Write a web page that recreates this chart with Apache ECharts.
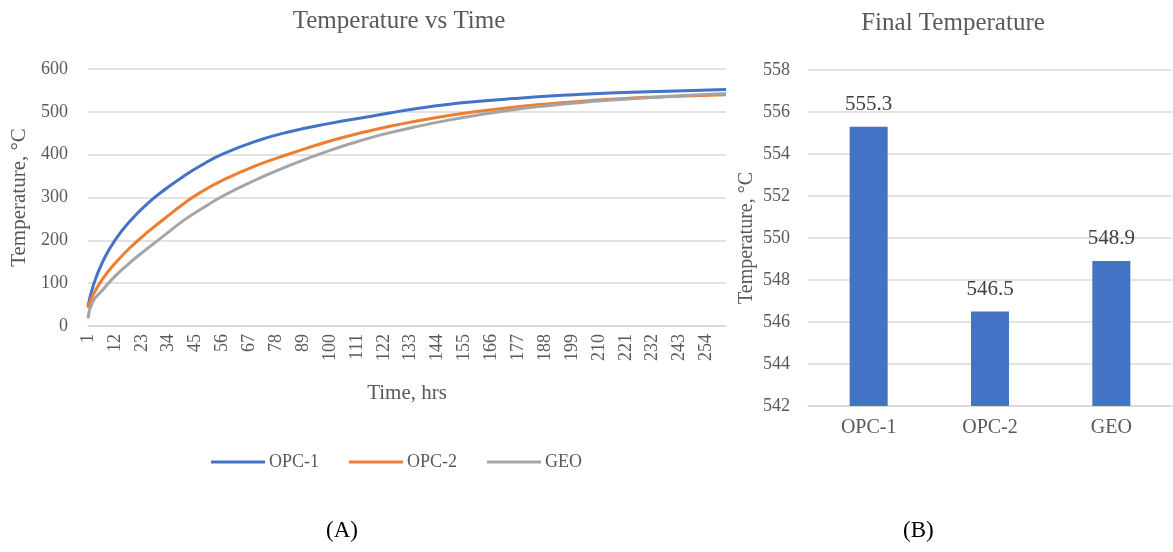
<!DOCTYPE html>
<html>
<head>
<meta charset="utf-8">
<script src="https://cdn.jsdelivr.net/npm/echarts@6/dist/echarts.min.js"></script>
<style>
  html, body { margin: 0; padding: 0; background: #fff; }
  #chart { width: 1173px; height: 552px; }
</style>
</head>
<body>
<div id="chart"></div>
<script>
// Temperature history (hours 1..262) sampled at these hours
const hours = [1, 3, 7, 12, 19, 26, 33, 40, 47, 56, 70, 83, 100, 115, 125, 135, 148, 160, 175, 190, 203, 217, 230, 245, 262];
const opc1 = [45, 92, 150, 200, 250, 289, 321, 349, 374, 401, 432, 453, 473, 488, 498, 507, 517, 524, 531, 537, 541, 544.5, 547, 549.5, 552];
const opc2 = [42, 72, 110, 146, 187, 222, 254, 285, 312, 340, 375, 401, 432, 454, 467, 478, 491, 501, 511, 519, 525, 530, 534, 537, 540];
const geo  = [18, 57, 84, 116, 152, 184, 215, 246, 272, 303, 342, 374, 410, 437, 452, 465, 480, 492, 505, 515, 522, 528, 533, 538, 543];
const lastHour = 262;

// Final temperatures
const mixes = ['OPC-1', 'OPC-2', 'GEO'];
const finalTemp = [555.3, 546.5, 548.9];

const FONT = '"Liberation Serif", "Times New Roman", serif';
const TXT = '#595959';
const GRID = '#D9D9D9';
const COLORS = ['#4472C4', '#ED7D31', '#A5A5A5'];

const timeCats = [];
for (let h = 1; h <= lastHour; h++) timeCats.push(String(h));

function pairs(vals) {
  return hours.map((h, i) => [h - 1, vals[i]]);
}

function lineSeries(name, vals, color) {
  return {
    name: name,
    type: 'line',
    xAxisIndex: 0,
    yAxisIndex: 0,
    data: pairs(vals),
    smooth: 0.5,
    showSymbol: false,
    symbol: 'none',
    lineStyle: { color: color, width: 3 },
    itemStyle: { color: color },
    z: 2
  };
}

const chart = echarts.init(document.getElementById('chart'), null, { renderer: 'canvas' });

chart.setOption({
  animation: false,
  backgroundColor: '#fff',
  textStyle: { fontFamily: FONT },
  title: [
    {
      text: 'Temperature vs Time',
      left: 394, top: 4, textAlign: 'center',
      textStyle: { fontFamily: FONT, fontSize: 25, fontWeight: 'normal', color: TXT }
    },
    {
      text: 'Final Temperature',
      left: 948, top: 6, textAlign: 'center',
      textStyle: { fontFamily: FONT, fontSize: 25, fontWeight: 'normal', color: TXT }
    }
  ],
  legend: {
    data: ['OPC-1', 'OPC-2', 'GEO'],
    left: 206, top: 448,
    icon: 'rect',
    itemWidth: 54, itemHeight: 3,
    itemGap: 30,
    textStyle: { fontFamily: FONT, fontSize: 18, color: TXT, padding: [0, 0, 0, -1] }
  },
  grid: [
    { left: 88, right: 447, top: 69, bottom: 226, containLabel: false },
    { left: 808, right: 1, top: 70, bottom: 146, containLabel: false }
  ],
  xAxis: [
    {
      type: 'category', gridIndex: 0, data: timeCats, boundaryGap: false,
      axisLine: { show: true, lineStyle: { color: GRID, width: 1.5 } },
      axisTick: { show: false },
      axisLabel: { interval: 10, rotate: 90, margin: 8, fontFamily: FONT, fontSize: 18, color: TXT },
      name: 'Time, hrs', nameLocation: 'middle', nameGap: 57,
      nameTextStyle: { fontFamily: FONT, fontSize: 21, color: TXT }
    },
    {
      type: 'category', gridIndex: 1, data: mixes,
      axisLine: { show: true, lineStyle: { color: GRID, width: 1.5 } },
      axisTick: { show: false },
      axisLabel: { margin: 12, fontFamily: FONT, fontSize: 20, color: TXT }
    }
  ],
  yAxis: [
    {
      type: 'value', gridIndex: 0, min: 0, max: 600, interval: 100,
      axisLine: { show: false }, axisTick: { show: false },
      splitLine: { lineStyle: { color: GRID, width: 1.5 } },
      axisLabel: { margin: 20, fontFamily: FONT, fontSize: 18, color: TXT },
      name: 'Temperature, °C', nameLocation: 'middle', nameGap: 54,
      nameTextStyle: { fontFamily: FONT, fontSize: 21, color: TXT }
    },
    {
      type: 'value', gridIndex: 1, min: 542, max: 558, interval: 2,
      axisLine: { show: false }, axisTick: { show: false },
      splitLine: { lineStyle: { color: GRID, width: 1.5 } },
      axisLabel: { margin: 18, fontFamily: FONT, fontSize: 18, color: TXT },
      name: 'Temperature, °C', nameLocation: 'middle', nameGap: 51,
      nameTextStyle: { fontFamily: FONT, fontSize: 20, color: TXT }
    }
  ],
  series: [
    lineSeries('OPC-1', opc1, COLORS[0]),
    lineSeries('OPC-2', opc2, COLORS[1]),
    lineSeries('GEO', geo, COLORS[2]),
    {
      name: 'Final', type: 'bar', xAxisIndex: 1, yAxisIndex: 1,
      data: finalTemp, barWidth: 38,
      itemStyle: { color: '#4472C4' },
      label: {
        show: true, position: 'top', distance: 12,
        fontFamily: FONT, fontSize: 21, color: '#404040',
        formatter: p => p.value.toFixed(1)
      }
    }
  ],
  graphic: [
    { type: 'text', left: 326, top: 519, style: { text: '(A)', font: '23px ' + FONT, fill: '#000' } },
    { type: 'text', left: 903, top: 519, style: { text: '(B)', font: '23px ' + FONT, fill: '#000' } }
  ]
});
</script>
</body>
</html>
